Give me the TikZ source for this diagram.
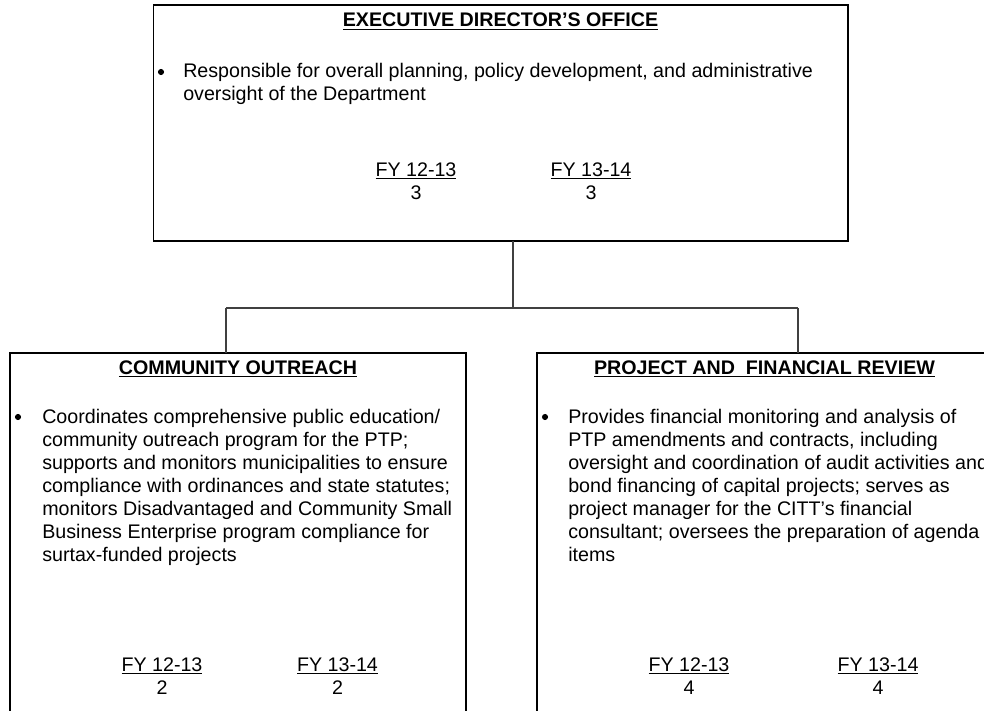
\documentclass[tikz,border=0pt]{standalone}
\usepackage{fontspec}
\setmainfont{Liberation Sans}
\newcommand\bodyfont{\fontsize{14.75}{17.25}\selectfont}
\newcommand\myul[2][0.7pt]{\setbox0\hbox{#2}\rlap{\rule[-2.4pt]{\wd0}{#1}}\box0}
\tikzset{
  box/.style={draw=black, line width=1.3pt, anchor=north west, inner sep=0pt, outer sep=0pt},
  link/.style={draw=black!75, line width=0.8pt},
  txt/.style={anchor=north west, inner sep=0pt, align=left, font=\bodyfont},
  dot/.style={circle, fill=black, inner sep=0pt, minimum size=4.6pt},
  head/.style={anchor=base, inner sep=0pt, font=\bodyfont\bfseries},
  fy/.style={anchor=base, inner sep=0pt, font=\bodyfont},
}
\begin{document}
\begin{tikzpicture}[x=0.75pt,y=-0.75pt]
\useasboundingbox (0,0) rectangle (984,710);
\clip (0,0) rectangle (984,710);
% boxes
\node[box, minimum width=520.9pt, minimum height=177pt] (exec) at (153.5,5) {};
\node[box, minimum width=342pt, minimum height=282.75pt] (co) at (10,353) {};
\node[box, minimum width=347.25pt, minimum height=282.75pt] (pf) at (537,353) {};
% connectors
\coordinate (j) at (513,308);
\coordinate (jl) at (226,308);
\coordinate (jr) at (798,308);
\draw[link] (exec.south -| j) -- (j);
\draw[link] (jl) -- (jr);
\draw[link] (jl) -- (jl |- co.north);
\draw[link] (jr) -- (jr |- pf.north);
% executive
\node[head] (eh) at (500.5,27) {\myul[1pt]{EXECUTIVE DIRECTOR’S OFFICE}};
\node[dot] (eb) at (161,72) {};
\node[txt] (et) at (183,61) {\strut Responsible for overall planning, policy development, and administrative\\oversight of the Department};
\node[fy] (ef1) at (416,176) {\myul{FY 12-13}};
\node[fy] (en1) at (416,199) {3};
\node[fy] (ef2) at (591,176) {\myul{FY 13-14}};
\node[fy] (en2) at (591,199) {3};
% community outreach
\node[head] (ch) at (238,374) {\myul[1pt]{COMMUNITY OUTREACH}};
\node[dot] (cb) at (18,417) {};
\node[txt] (ct) at (42,407) {\strut Coordinates comprehensive public education/\\community outreach program for the PTP;\\supports and monitors municipalities to ensure\\compliance with ordinances and state statutes;\\monitors Disadvantaged and Community Small\\Business Enterprise program compliance for\\surtax-funded projects};
\node[fy] (cf1) at (162,671) {\myul{FY 12-13}};
\node[fy] (cn1) at (162,694) {2};
\node[fy] (cf2) at (337.5,671) {\myul{FY 13-14}};
\node[fy] (cn2) at (337.5,694) {2};
% project and financial review
\node[head] (ph) at (764.5,374) {\myul[1pt]{PROJECT AND\ \ FINANCIAL REVIEW}};
\node[dot] (pb) at (545,417) {};
\node[txt] (pt) at (568,407) {\strut Provides financial monitoring and analysis of\\PTP amendments and contracts, including\\oversight and coordination of audit activities and\\bond financing of capital projects; serves as\\project manager for the CITT’s financial\\consultant; oversees the preparation of agenda\\items};
\node[fy] (pf1) at (689,671) {\myul{FY 12-13}};
\node[fy] (pn1) at (689,694) {4};
\node[fy] (pf2) at (878,671) {\myul{FY 13-14}};
\node[fy] (pn2) at (878,694) {4};
\end{tikzpicture}
\end{document}
